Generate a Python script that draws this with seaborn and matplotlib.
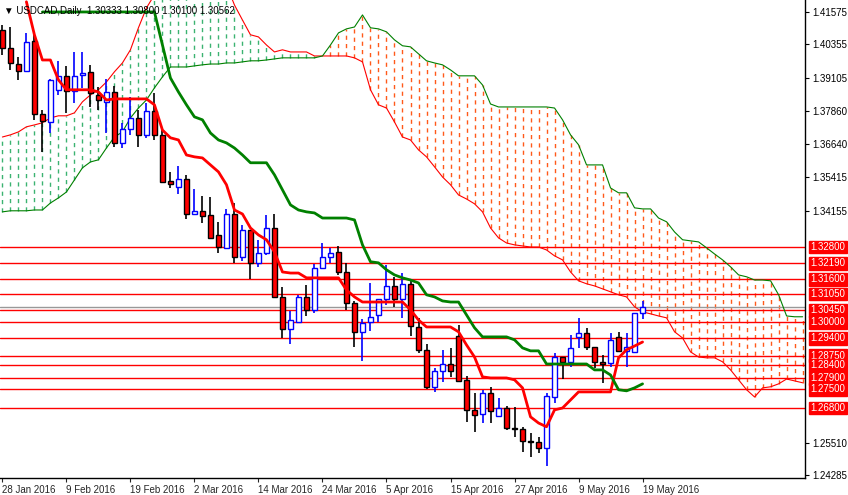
import numpy as np
import pandas as pd
import matplotlib
matplotlib.use("Agg")
import matplotlib.pyplot as plt
import matplotlib.transforms as mtrans
import seaborn as sns

opens = [1.4089,1.4022,1.3962,1.3936,1.4048,1.3776,1.3746,1.3866,1.3918,1.3862,
         1.3921,1.3933,1.3847,1.3821,1.3858,1.3668,1.3720,1.3761,1.3698,1.3787,
         1.3698,1.3526,1.3504,1.3534,1.3403,1.3415,1.3400,1.3325,1.3277,1.3403,
         1.3243,1.3344,1.3221,1.3258,1.3351,1.3094,1.2975,1.3001,1.3094,1.3046,
         1.3202,1.3243,1.3262,1.3187,1.3072,1.2964,1.3001,1.3027,1.3087,1.3135,
         1.3087,1.3143,1.2982,1.2897,1.2759,1.2818,1.2844,1.2949,1.2785,1.2673,
         1.2658,1.2736,1.2651,1.2680,1.2606,1.2602,1.2557,1.2554,1.2531,1.2721,
         1.2870,1.2852,1.2945,1.2960,1.2908,1.2852,1.2848,1.2945,1.2893,1.2889,1.30333]
highs = [1.4108,1.4100,1.3989,1.4078,1.4078,1.3791,1.3907,1.3974,1.3955,1.4007,
         1.4007,1.3959,1.3877,1.3907,1.3880,1.3743,1.3839,1.3791,1.3817,1.3854,
         1.3728,1.3560,1.3582,1.3549,1.3497,1.3471,1.3467,1.3374,1.3422,1.3444,
         1.3362,1.3344,1.3307,1.3400,1.3403,1.3131,1.3042,1.3102,1.3139,1.3217,
         1.3295,1.3277,1.3284,1.3221,1.3079,1.3012,1.3146,1.3087,1.3213,1.3169,
         1.3183,1.3157,1.3016,1.2919,1.2829,1.2897,1.2904,1.2990,1.2800,1.2736,
         1.2748,1.2759,1.2718,1.2688,1.2684,1.2610,1.2587,1.2572,1.2736,1.2885,
         1.2870,1.2953,1.3016,1.2979,1.2908,1.2878,1.2960,1.2964,1.2960,1.3035,1.30800]
lows = [1.3996,1.3940,1.3903,1.3933,1.3754,1.3635,1.3705,1.3847,1.3780,1.3817,
        1.3873,1.3802,1.3791,1.3705,1.3653,1.3649,1.3698,1.3653,1.3687,1.3679,
        1.3519,1.3500,1.3478,1.3385,1.3403,1.3370,1.3314,1.3258,1.3277,1.3221,
        1.3228,1.3161,1.3206,1.3251,1.3090,1.2941,1.2919,1.3001,1.3023,1.3035,
        1.3198,1.3221,1.3176,1.3046,1.2908,1.2856,1.2967,1.3001,1.3064,1.3057,
        1.3016,1.2949,1.2885,1.2751,1.2740,1.2777,1.2796,1.2777,1.2628,1.2591,
        1.2624,1.2624,1.2647,1.2598,1.2572,1.2516,1.2498,1.2513,1.2464,1.2699,
        1.2788,1.2833,1.2904,1.2897,1.2829,1.2774,1.2833,1.2889,1.2833,1.2889,1.30100]
closes = [1.4022,1.3966,1.3936,1.4044,1.3776,1.3750,1.3903,1.3918,1.3862,1.3918,
          1.3929,1.3854,1.3828,1.3858,1.3668,1.3720,1.3761,1.3698,1.3787,1.3698,
          1.3523,1.3515,1.3534,1.3403,1.3415,1.3396,1.3314,1.3280,1.3403,1.3243,
          1.3344,1.3221,1.3258,1.3351,1.3094,1.2975,1.3008,1.3094,1.3046,1.3202,
          1.3243,1.3258,1.3187,1.3072,1.2964,1.2997,1.3020,1.3087,1.3135,1.3087,
          1.3143,1.2986,1.2897,1.2759,1.2818,1.2844,1.2818,1.2781,1.2673,1.2654,
          1.2736,1.2669,1.2680,1.2606,1.2602,1.2557,1.2554,1.2531,1.2725,1.2870,
          1.2852,1.2904,1.2960,1.2908,1.2852,1.2844,1.2934,1.2893,1.2908,1.3035,1.30562]

nan = np.nan
tenkan = [nan,nan,nan,1.4194,1.4071,1.3977,1.3977,1.3903,1.3866,1.3866,
          1.3866,1.3866,1.3858,1.3828,1.3832,1.3832,1.3832,1.3832,1.3832,1.3810,
          1.3716,1.3687,1.3679,1.3623,1.3616,1.3612,1.3586,1.3560,1.3512,1.3418,
          1.3403,1.3351,1.3325,1.3307,1.3262,1.3187,1.3183,1.3183,1.3165,1.3165,
          1.3165,1.3165,1.3165,1.3120,1.3094,1.3075,1.3075,1.3075,1.3075,1.3075,
          1.3075,1.3046,1.3008,1.2982,1.2982,1.2982,1.2982,1.2964,1.2915,1.2870,
          1.2796,1.2792,1.2792,1.2792,1.2785,1.2755,1.2647,1.2624,1.2610,1.2673,
          1.2680,1.2710,1.2740,1.2740,1.2740,1.2740,1.2740,1.2867,1.2897,1.2911,1.2926]
kijun = [nan,nan,nan,nan,nan,1.4156,1.4156,1.4156,1.4156,1.4156,
         1.4156,1.4156,1.4156,1.4156,1.4156,1.4156,1.4156,1.4156,1.4156,1.4156,
         1.4033,1.3910,1.3858,1.3810,1.3765,1.3754,1.3705,1.3679,1.3668,1.3649,
         1.3623,1.3594,1.3594,1.3594,1.3549,1.3493,1.3437,1.3418,1.3411,1.3407,
         1.3388,1.3388,1.3388,1.3388,1.3381,1.3288,1.3225,1.3221,1.3195,1.3176,
         1.3165,1.3157,1.3146,1.3102,1.3094,1.3079,1.3075,1.3075,1.3027,1.2979,
         1.2945,1.2945,1.2945,1.2945,1.2934,1.2904,1.2893,1.2893,1.2844,1.2844,
         1.2844,1.2844,1.2844,1.2844,1.2822,1.2822,1.2803,1.2748,1.2744,1.2755,1.2770]
span_a = [1.3690,1.3698,1.3709,1.3728,1.3735,1.3743,1.3761,1.3769,1.3769,1.3780,
          1.3821,1.3847,1.3866,1.3895,1.3933,1.3966,1.4015,1.4097,1.4171,1.4220,
          1.4257,1.4257,1.4257,1.4257,1.4257,1.4257,1.4257,1.4257,1.4257,1.4182,
          1.4126,1.4071,1.4063,1.4033,1.4007,1.4015,1.4007,1.4007,1.4007,1.3992,
          1.3992,1.3992,1.3992,1.3992,1.3985,1.3970,1.3866,1.3810,1.3798,1.3746,
          1.3690,1.3679,1.3642,1.3616,1.3579,1.3541,1.3512,1.3474,1.3459,1.3441,
          1.3411,1.3351,1.3314,1.3295,1.3288,1.3284,1.3280,1.3280,1.3269,1.3247,
          1.3232,1.3187,1.3154,1.3143,1.3135,1.3124,1.3113,1.3102,1.3094,1.3057,
          1.3038,1.3031,1.3023,1.3016,1.2964,1.2941,1.2889,1.2870,1.2867,1.2867,
          1.2852,1.2822,1.2785,1.2748,1.2721,1.2755,1.2759,1.2770,1.2788,1.2781,1.2774]
span_b = [1.3411,1.3415,1.3415,1.3415,1.3418,1.3418,1.3444,1.3463,1.3485,1.3530,
          1.3575,1.3597,1.3605,1.3649,1.3690,1.3709,1.3761,1.3798,1.3828,1.3873,
          1.3914,1.3951,1.3951,1.3951,1.3955,1.3959,1.3962,1.3962,1.3966,1.3966,
          1.3970,1.3974,1.3974,1.3977,1.3981,1.3985,1.3985,1.3985,1.3985,1.3985,
          1.3992,1.4033,1.4078,1.4093,1.4100,1.4145,1.4097,1.4093,1.4082,1.4052,
          1.4030,1.4026,1.4000,1.3974,1.3966,1.3959,1.3940,1.3918,1.3918,1.3918,
          1.3884,1.3813,1.3802,1.3802,1.3802,1.3802,1.3802,1.3802,1.3802,1.3798,
          1.3754,1.3698,1.3661,1.3586,1.3586,1.3586,1.3500,1.3482,1.3482,1.3426,
          1.3422,1.3422,1.3388,1.3374,1.3336,1.3307,1.3303,1.3299,1.3277,1.3254,
          1.3232,1.3206,1.3176,1.3169,1.3157,1.3157,1.3154,1.3102,1.3023,1.3020,1.3020]

levels = [1.3280, 1.3219, 1.3160, 1.3105, 1.3045, 1.3000, 1.2940, 1.2875, 1.2840, 1.2790, 1.2750, 1.2680]
axis_ticks = [1.41575, 1.40355, 1.39105, 1.37860, 1.36640, 1.35415, 1.34155, 1.25510, 1.24285]
date_pos = [0, 8, 16, 24, 32, 40, 48, 56, 64, 72, 80]
date_labels = ["28 Jan 2016", "9 Feb 2016", "19 Feb 2016", "2 Mar 2016", "14 Mar 2016",
               "24 Mar 2016", "5 Apr 2016", "15 Apr 2016", "27 Apr 2016", "9 May 2016", "19 May 2016"]
last_price = 1.30562

sns.set_style("white")
plt.rcParams['font.family'] = ['Liberation Sans', 'DejaVu Sans']
fig = plt.figure(figsize=(8.48, 4.95), dpi=100)
ax = fig.add_axes([0.0, 1 - 478/495, 805/848, 478/495])

n = len(opens)
x = np.arange(n)
xc = np.arange(len(span_a))
a = np.array(span_a); b = np.array(span_b)

for i in xc:
    col = "#3cb371" if a[i] > b[i] else "#ff5a1a"
    ax.vlines(i, min(a[i], b[i]), max(a[i], b[i]), colors=col, linewidth=1.0,
              linestyles=(0, (3, 3)), zorder=1)

cloud = pd.DataFrame({"x": xc, "a": a, "b": b})
sns.lineplot(data=cloud, x="x", y="a", color="red", linewidth=0.8, ax=ax, zorder=2)
sns.lineplot(data=cloud, x="x", y="b", color="green", linewidth=0.8, ax=ax, zorder=2)

for lv in levels:
    ax.axhline(lv, color="red", linewidth=1.0, zorder=1.5)
ax.axhline(last_price, color="#999999", linewidth=1.0, zorder=1.5)

o = np.array(opens); c = np.array(closes); h = np.array(highs); l = np.array(lows)
for i in x:
    bull = c[i] >= o[i]
    wick = "blue" if bull else "black"
    ax.vlines(i, l[i], h[i], color=wick, linewidth=1.2, zorder=3)
    lo_, hi_ = min(o[i], c[i]), max(o[i], c[i])
    hgt = max(hi_ - lo_, 0.0002)
    ax.bar(i, hgt, bottom=lo_, width=0.6, color="white" if bull else "red",
           edgecolor="blue" if bull else "black", linewidth=1.0, zorder=4)

lines = pd.DataFrame({"x": x, "tenkan": tenkan, "kijun": kijun})
sns.lineplot(data=lines, x="x", y="tenkan", color="red", linewidth=2, ax=ax, zorder=5)
sns.lineplot(data=lines, x="x", y="kijun", color="green", linewidth=2, ax=ax, zorder=5)

ymin, ymax = 1.24191, 1.42006
ax.set_xlim(-0.3, 100.3)
ax.set_ylim(ymin, ymax)
ax.set_xlabel(""); ax.set_ylabel("")
for s in ["top", "left"]:
    ax.spines[s].set_visible(False)
for s in ["right", "bottom"]:
    ax.spines[s].set_color("black"); ax.spines[s].set_linewidth(1)

ax.yaxis.tick_right()
ax.set_yticks(axis_ticks)
ax.set_yticklabels([f"{t:.5f}" for t in axis_ticks], fontsize=7)
ax.tick_params(axis="y", length=3, pad=2, colors="black", right=True)
ax.set_xticks(date_pos)
ax.set_xticklabels(date_labels, fontsize=7, ha="left")
ax.tick_params(axis="x", length=3, pad=2, bottom=True)

trans = mtrans.blended_transform_factory(ax.transAxes, ax.transData)
for lv in levels:
    ax.text(1.007, lv, f"{lv:.5f}", transform=trans, fontsize=7, color="white",
            va="center", ha="left", clip_on=False,
            bbox=dict(boxstyle="square,pad=0.15", fc="red", ec="red"))

fig.text(0.005, 0.988, "\u25BC USDCAD,Daily  1.30333 1.30800 1.30100 1.30562",
         fontsize=7, va="top", ha="left", color="black")

fig.savefig("out.png", dpi=100, facecolor="white")
